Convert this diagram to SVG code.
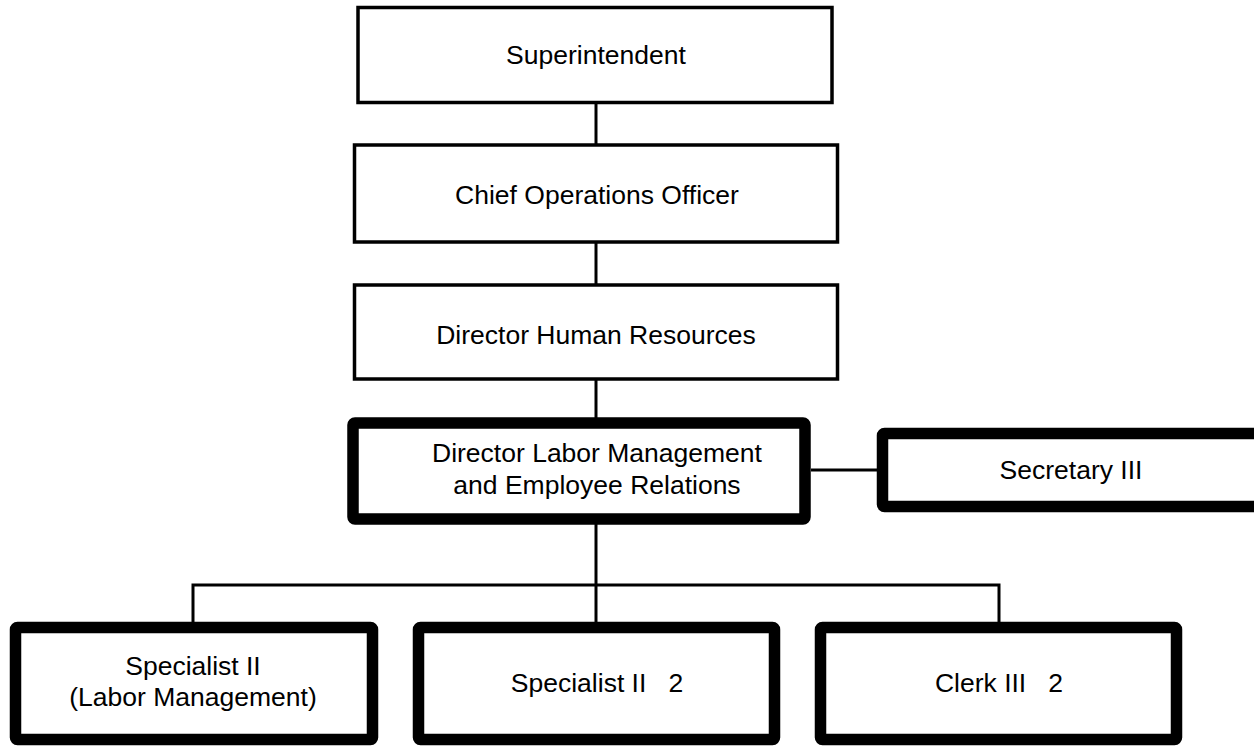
<svg xmlns="http://www.w3.org/2000/svg" width="1254" height="747" viewBox="0 0 1254 747">
<style>
.thin{fill:#fff;stroke:#000;stroke-width:3.5}
.thick{fill:#fff;stroke:#000;stroke-width:11.5}
.lbl{font-family:"Liberation Sans",Arial,sans-serif;font-size:26.5px;fill:#000;text-anchor:middle}
.con{stroke:#000;stroke-width:3;fill:none}
</style>
<rect width="1254" height="747" fill="#fff"/>
<g id="connectors">
<line class="con" x1="596" y1="104" x2="596" y2="145"/>
<line class="con" x1="596" y1="243" x2="596" y2="285"/>
<line class="con" x1="596" y1="379" x2="596" y2="420"/>
<line class="con" x1="811" y1="470" x2="879" y2="470"/>
<line class="con" x1="596" y1="520" x2="596" y2="625"/>
<polyline class="con" points="193,625 193,585 999,585 999,625"/>
</g>
<g id="superintendent">
<rect class="thin" x="358" y="7.5" width="474" height="95"/>
<text class="lbl" x="596" y="64">Superintendent</text>
</g>
<g id="coo">
<rect class="thin" x="354.5" y="145" width="483" height="97"/>
<text class="lbl" x="597" y="204">Chief Operations Officer</text>
</g>
<g id="dhr">
<rect class="thin" x="354.5" y="285" width="483" height="94"/>
<text class="lbl" x="596" y="344">Director Human Resources</text>
</g>
<g id="dlm">
<rect class="thick" x="353" y="423" width="452" height="96" rx="2"/>
<text class="lbl" x="597" y="462">Director Labor Management</text>
<text class="lbl" x="597" y="494">and Employee Relations</text>
</g>
<g id="secretary">
<rect class="thick" x="882.5" y="433.5" width="400" height="73" rx="2"/>
<text class="lbl" x="1071" y="479">Secretary III</text>
</g>
<g id="specialist-lm">
<rect class="thick" x="15.5" y="627.5" width="357" height="112" rx="2"/>
<text class="lbl" x="193" y="675">Specialist II</text>
<text class="lbl" x="193" y="706">(Labor Management)</text>
</g>
<g id="specialist2">
<rect class="thick" x="418.5" y="627.5" width="356" height="112" rx="2"/>
<text class="lbl" x="597" y="692" xml:space="preserve">Specialist II   2</text>
</g>
<g id="clerk">
<rect class="thick" x="820.5" y="627.5" width="356" height="112" rx="2"/>
<text class="lbl" x="999" y="692" xml:space="preserve">Clerk III   2</text>
</g>
</svg>
